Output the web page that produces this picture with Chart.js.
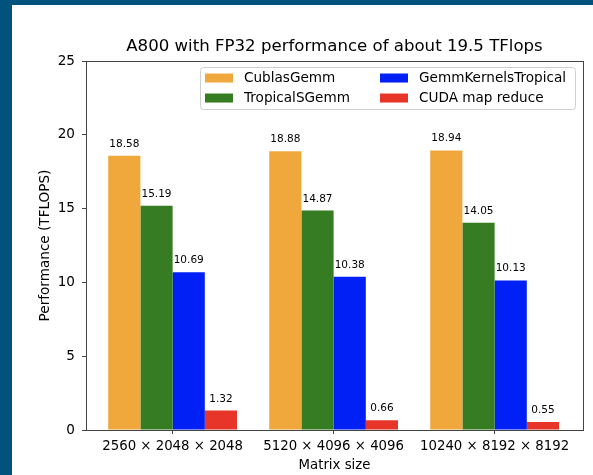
<!DOCTYPE html>
<html>
<head>
<meta charset="utf-8">
<script src="https://cdn.jsdelivr.net/npm/chart.js@4/dist/chart.umd.min.js"></script>
<style>
  html, body { margin: 0; padding: 0; }
  body { width: 593px; height: 475px; background: #02527e; position: relative; overflow: hidden; }
  #wrap { position: absolute; left: 12px; top: 5px; width: 581px; height: 470px; background: #fff; }
</style>
</head>
<body>
<div id="wrap"><canvas id="barChart" width="581" height="470"></canvas></div>
<script>
const categories = ["2560 × 2048 × 2048", "5120 × 4096 × 4096", "10240 × 8192 × 8192"];
const seriesNames = ["CublasGemm", "TropicalSGemm", "GemmKernelsTropical", "CUDA map reduce"];
const cublasGemm = [18.58, 18.88, 18.94];
const tropicalSGemm = [15.19, 14.87, 14.05];
const gemmKernelsTropical = [10.69, 10.38, 10.13];
const cudaMapReduce = [1.32, 0.66, 0.55];
const yTicks = [0, 5, 10, 15, 20, 25];
const colors = ["#f0a83c", "#367c22", "#0020f6", "#e8352a"];

const FONT = "DejaVu Sans";
const TXT = 13.6;

// value labels above each bar
const barLabels = {
  id: "barLabels",
  afterDatasetsDraw(chart) {
    const ctx = chart.ctx;
    ctx.save();
    ctx.font = "10.5px '" + FONT + "'";
    ctx.fillStyle = "#000";
    ctx.textAlign = "center";
    ctx.textBaseline = "alphabetic";
    chart.data.datasets.forEach((ds, i) => {
      chart.getDatasetMeta(i).data.forEach((bar, j) => {
        ctx.fillText(ds.data[j].toFixed(2), bar.x, bar.y - 9);
      });
    });
    ctx.restore();
  }
};

// box around the plot + two-column legend like matplotlib
const frameAndLegend = {
  id: "frameAndLegend",
  afterDraw(chart) {
    const ctx = chart.ctx;
    const a = chart.chartArea;
    ctx.save();
    ctx.strokeStyle = "#444";
    ctx.lineWidth = 1;
    ctx.strokeRect(Math.round(a.left) + 0.5, Math.round(a.top) + 0.5,
      Math.round(a.right - a.left), Math.round(a.bottom - a.top));

    const w = 375, h = 42;
    const bx = a.right - 8 - w, by = a.top + 6;
    ctx.fillStyle = "rgba(255,255,255,0.8)";
    ctx.strokeStyle = "#d0d0d0";
    ctx.beginPath();
    ctx.roundRect(bx + 0.5, by + 0.5, w, h, 3);
    ctx.fill();
    ctx.stroke();

    ctx.font = TXT + "px '" + FONT + "'";
    ctx.textBaseline = "middle";
    ctx.textAlign = "left";
    const colX = [5, 180];
    const rowY = [11, 31];
    chart.data.datasets.forEach((ds, i) => {
      const c = Math.floor(i / 2), r = i % 2;
      const px = bx + colX[c], py = by + rowY[r];
      ctx.fillStyle = ds.backgroundColor;
      ctx.fillRect(px, py - 4.5, 28, 9);
      ctx.fillStyle = "#000";
      ctx.fillText(ds.label, px + 39, py);
    });
    ctx.restore();
  }
};

const data = {
  labels: categories,
  datasets: [
    { label: seriesNames[0], data: cublasGemm, backgroundColor: colors[0] },
    { label: seriesNames[1], data: tropicalSGemm, backgroundColor: colors[1] },
    { label: seriesNames[2], data: gemmKernelsTropical, backgroundColor: colors[2] },
    { label: seriesNames[3], data: cudaMapReduce, backgroundColor: colors[3] }
  ]
};

const config = {
  type: "bar",
  data: data,
  options: {
    responsive: false,
    animation: false,
    devicePixelRatio: 1,
    categoryPercentage: 0.8,
    barPercentage: 1.0,
    layout: { padding: { left: 0, right: 10, top: 0, bottom: 0 } },
    plugins: {
      legend: { display: false },
      tooltip: { enabled: false },
      title: {
        display: true,
        text: "A800 with FP32 performance of about 19.5 TFlops",
        fullSize: false,
        color: "#000",
        font: { family: FONT, size: 16.6, weight: "normal", lineHeight: 1.2 },
        padding: { top: 32, bottom: 4.1 }
      }
    },
    scales: {
      x: {
        grid: { display: true, drawOnChartArea: false, offset: false, tickLength: 4, tickColor: "#444" },
        border: { display: true, color: "#444" },
        ticks: { color: "#000", padding: 5, maxRotation: 0, font: { family: FONT, size: 13.3 } },
        title: {
          display: true, text: "Matrix size", color: "#000",
          font: { family: FONT, size: 13.3, lineHeight: 1.2 },
          padding: { top: 0, bottom: 1.5 }
        },
        afterBuildTicks: (scale) => {
          // matplotlib-like side margins
          scale._startValue = -0.538;
          scale._valueRange = 3.087;
        },
        afterFit: (scale) => { scale.height = 45; }
      },
      y: {
        min: 0,
        max: 25,
        afterBuildTicks: (scale) => { scale.ticks = yTicks.map(v => ({ value: v })); },
        grid: { display: true, drawOnChartArea: false, tickLength: 4, tickColor: "#444" },
        border: { display: true, color: "#444" },
        ticks: { color: "#000", padding: 7, font: { family: FONT, size: TXT } },
        title: {
          display: true, text: "Performance (TFLOPS)", color: "#000",
          font: { family: FONT, size: TXT, lineHeight: 1.2 },
          padding: { top: 25, bottom: 0 }
        },
        afterFit: (scale) => { scale.width = 74; }
      }
    }
  },
  plugins: [barLabels, frameAndLegend]
};

const chart = new Chart(document.getElementById("barChart"), config);
</script>
</body>
</html>
